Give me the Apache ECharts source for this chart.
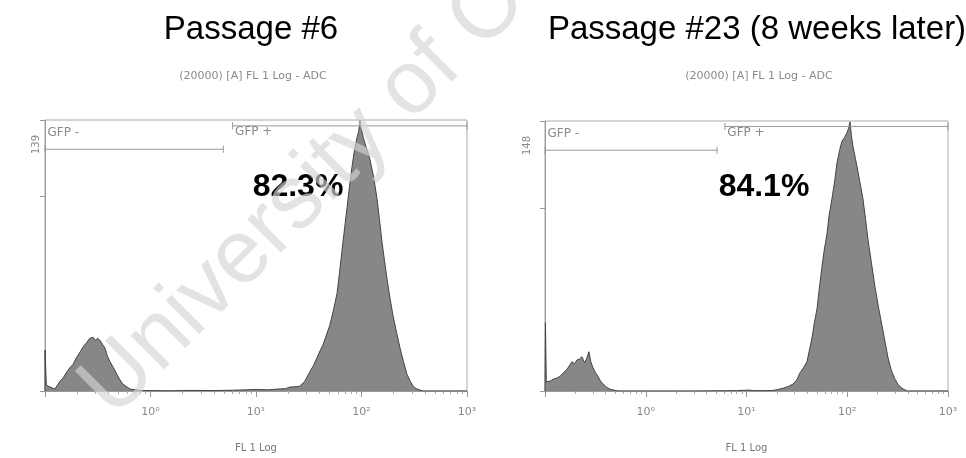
<!DOCTYPE html>
<html>
<head>
<meta charset="utf-8">
<script src="https://cdn.jsdelivr.net/npm/echarts@6/dist/echarts.min.js"></script>
<style>
  html, body { margin: 0; padding: 0; background: #fff; }
  #chart { width: 966px; height: 458px; }
</style>
</head>
<body>
<div id="chart"></div>
<script>
// panel titles and gated percentages
const panelTitles = ['Passage #6', 'Passage #23 (8 weeks later)'];
const panelSubtitle = '(20000) [A] FL 1 Log - ADC';
const gfpPercent = ['82.3%', '84.1%'];
const yMax = [139, 148];

// FL1 log axis
const flMin = 0.1, flMax = 1000;
const decadeLabels = {0: '10\u2070', 1: '10\u00b9', 2: '10\u00b2', 3: '10\u00b3'};

// gates: [from, to] on FL1 and height in counts
const gateNeg = [[0.1, 4.9], [0.1, 5.1]];
const gatePos = [[6.0, 1000], [6.1, 1000]];
const gateNegLevel = [124, 132];
const gatePosLevel = [136, 145];

// passage 6 histogram (FL1, count)
const p6Fl = [0.1, 0.1, 0.103, 0.112, 0.124, 0.131, 0.139, 0.15, 0.162, 0.172, 0.184, 0.198, 0.215, 0.232, 0.25, 0.265,
  0.285, 0.3, 0.315, 0.332, 0.35, 0.37, 0.39, 0.413, 0.445, 0.481, 0.51, 0.548, 0.6, 0.64, 0.72, 0.795, 1.0, 1.5,
  2.5, 4, 6, 8, 10.2, 13, 16, 19, 21, 24, 26, 29, 32.5, 35, 37.8, 40, 43, 46, 50, 54, 58.6, 62, 65.3, 69, 72.9, 77,
  81.3, 86, 90.6, 94, 96.8, 100, 104, 108, 114, 120, 130, 140, 148, 156, 165, 175, 187, 199, 215, 232, 250, 270,
  290, 308, 330, 359, 383, 1000];
const p6Count = [0, 21, 3, 2, 1, 3, 5, 7, 10, 12, 13.5, 17, 20, 23, 25, 27,
  27.6, 26, 27, 26, 24, 22, 18, 15, 12, 8.5, 6, 3.5, 2, 1, 0.6, 0.3, 0.2, 0.1,
  0.3, 0.2, 0.4, 0.6, 0.8, 0.6, 1, 1.2, 2, 2.2, 2.5, 5, 10, 13, 17, 20, 23.5, 28, 33.6, 41, 50, 61, 72, 83, 94, 105,
  115, 124, 130, 133, 139, 134, 130, 127, 123, 119, 110, 99, 88, 77, 67, 57, 47, 38.6, 30, 22, 15, 8.5,
  5, 2.5, 1.2, 0.5, 0, 0];

// passage 23 histogram (FL1, count)
const p23Fl = [0.1, 0.101, 0.103, 0.107, 0.113, 0.12, 0.13, 0.141, 0.152, 0.165, 0.175, 0.185, 0.196, 0.208, 0.22,
  0.233, 0.24, 0.249, 0.26, 0.273, 0.285, 0.299, 0.317, 0.336, 0.355, 0.377, 0.41, 0.442, 0.49, 0.531, 3, 8, 10.4,
  12, 15, 18.3, 20.5, 23, 26, 29, 31.5, 34, 37, 39.8, 42, 44.7, 47, 50.1, 53, 56.1, 59, 62.9, 66, 70.6, 75, 79.1,
  84, 88.7, 94, 99.5, 103, 106.5, 110, 114, 121, 128, 135, 143, 152, 161, 174, 188, 204, 221, 237, 254, 275, 298,
  320, 349, 392, 1000];
const p23Count = [0, 37.5, 5, 4.8, 5.5, 6.4, 7, 8, 10, 11.8, 14, 16, 15, 17, 17.5,
  18.8, 17, 15.5, 18, 21.5, 16, 12.9, 10, 8, 5.5, 3.8, 2, 1, 0.4, 0, 0, 0.2, 0.5,
  0.2, 0.2, 0.3, 0.8, 1.5, 2.5, 3.8, 6, 10, 13, 16, 22, 29, 37, 45, 57, 68, 77, 86, 96, 105.6, 115, 125,
  132, 137, 139, 141.6, 144, 147.5, 140, 134, 127, 120, 113, 105.6, 94, 82.6, 70, 57.4, 46, 36, 27, 18.2, 11, 6.4,
  3.5, 1.5, 0, 0];

const histX = [p6Fl, p23Fl];
const histY = [p6Count, p23Count];

const grids = [
  {left: 45, top: 120, width: 422, height: 277},
  {left: 545, top: 121, width: 403, height: 276}
];
const centers = [246, 752];
const pctCenters = [293, 759];
const yLabelMargin = [4, 13];

const gray = '#878787';
const small = 'DejaVu Sans';

const option = {
  animation: false,
  backgroundColor: '#fff',
  title: [],
  grid: [],
  xAxis: [],
  yAxis: [],
  series: [],
  graphic: [{
    type: 'text',
    x: 128, y: 434,
    rotation: Math.PI / 4,
    z: 100,
    silent: true,
    style: {
      text: 'University of Cape Town',
      fontSize: 90,
      fontFamily: 'Liberation Sans',
      fill: 'rgba(212,212,212,0.65)',
      textVerticalAlign: 'bottom'
    }
  }]
};

[0, 1].forEach(function (i) {
  option.title.push(
    {text: panelTitles[i], left: centers[i], top: 8, textAlign: 'center',
      textStyle: {fontSize: 33, fontWeight: 'normal', color: '#000', fontFamily: 'Liberation Sans'}},
    {text: panelSubtitle, left: centers[i] + 2, top: 66, textAlign: 'center',
      textStyle: {fontSize: 11, fontWeight: 'normal', color: '#8a8a8a', fontFamily: small}},
    {text: gfpPercent[i], left: pctCenters[i], top: 166, textAlign: 'center',
      textStyle: {fontSize: 32, fontWeight: 'bold', color: '#000', fontFamily: 'Liberation Sans'}}
  );

  option.grid.push(Object.assign({show: true, borderColor: '#aaa', borderWidth: 1}, grids[i]));

  option.xAxis.push({
    type: 'log', logBase: 10, gridIndex: i, min: flMin, max: flMax,
    name: 'FL 1 Log', nameLocation: 'middle', nameGap: 52,
    nameTextStyle: {fontSize: 10, color: '#777', fontFamily: small},
    axisLine: {lineStyle: {color: '#999'}},
    axisTick: {show: true, length: 6, lineStyle: {color: '#999'}},
    minorTick: {show: true, splitNumber: 9, length: 3, lineStyle: {color: '#aaa'}},
    splitLine: {show: false},
    axisLabel: {
      margin: 16, fontSize: 11, color: '#888', fontFamily: small,
      formatter: function (v) {
        const e = Math.round(Math.log10(v));
        return e >= 0 ? decadeLabels[e] : '';
      }
    }
  });

  option.yAxis.push({
    type: 'value', gridIndex: i, min: 0, max: yMax[i], interval: 100,
    axisLine: {show: true, lineStyle: {color: '#999'}},
    axisTick: {show: true, length: 5, lineStyle: {color: '#999'}},
    splitLine: {show: false},
    axisLabel: {
      rotate: 90, align: 'right', margin: yLabelMargin[i], padding: [0, 15, 0, 0],
      fontSize: 10, color: '#888', fontFamily: small,
      formatter: function (v) { return v === yMax[i] ? String(yMax[i]) : ''; }
    }
  });

  option.series.push({
    type: 'line', xAxisIndex: i, yAxisIndex: i,
    data: histX[i].map(function (x, k) { return [x, histY[i][k]]; }),
    showSymbol: false, smooth: false,
    lineStyle: {color: '#444', width: 1},
    areaStyle: {color: gray, opacity: 1},
    z: 2
  });

  const gateLabel = {color: '#8a8a8a', fontSize: 12, fontFamily: small};
  option.series.push({
    type: 'line', xAxisIndex: i, yAxisIndex: i,
    symbol: 'rect', symbolSize: [1, 7],
    itemStyle: {color: '#999'},
    lineStyle: {color: '#999', width: 1},
    data: [
      {value: [gateNeg[i][0], gateNegLevel[i]],
        label: Object.assign({show: true, formatter: 'GFP -', position: [3, -19]}, gateLabel)},
      [gateNeg[i][1], gateNegLevel[i]]
    ],
    z: 3
  });
  option.series.push({
    type: 'line', xAxisIndex: i, yAxisIndex: i,
    symbol: 'rect', symbolSize: [1, 7],
    itemStyle: {color: '#999'},
    lineStyle: {color: '#999', width: 1},
    data: [
      {value: [gatePos[i][0], gatePosLevel[i]],
        label: Object.assign({show: true, formatter: 'GFP +', position: [3, 4]}, gateLabel)},
      [gatePos[i][1], gatePosLevel[i]]
    ],
    z: 3
  });
});

const chart = echarts.init(document.getElementById('chart'));
chart.setOption(option);
window.addEventListener('resize', function () {
  chart.resize();
});
</script>
</body>
</html>
